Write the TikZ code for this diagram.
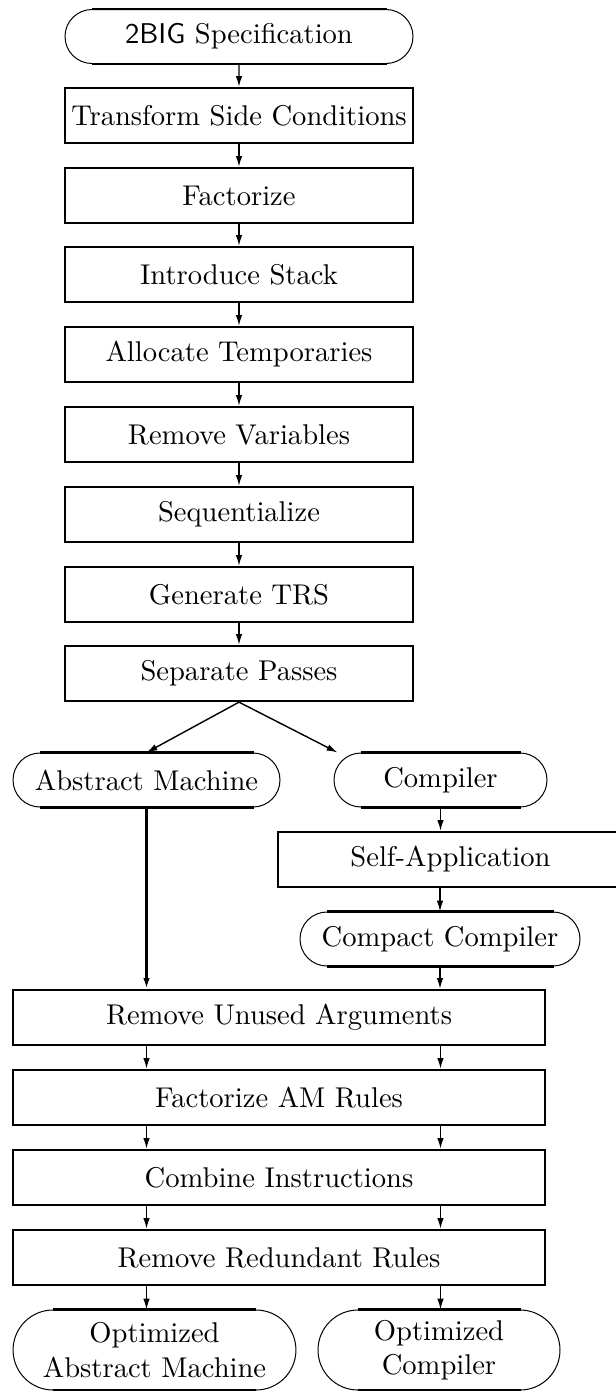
\documentclass[tikz,border=0pt]{standalone}
\usetikzlibrary{shapes.misc,arrows.meta}

\tikzset{
    procbox/.style={draw, line width=0.8pt, minimum height=19.25pt, inner sep=0pt},
    termbox/.style={draw, rounded rectangle, line width=0.35pt, minimum height=18.9pt, inner sep=0pt},
    narrowcol/.style={minimum width=121.8pt},
    widecol/.style={minimum width=186.2pt},
    flow/.style={-{Latex[length=3.8pt,width=2.3pt]}, line width=0.5pt},
}
% thick flat top and bottom of a terminal
\newcommand\termflat[2]{%
    \draw[line width=0.8pt] ([xshift=#2]#1.west |- #1.north) -- ([xshift=-#2]#1.east |- #1.north)
        ([xshift=#2]#1.west |- #1.south) -- ([xshift=-#2]#1.east |- #1.south);}

\begin{document}
\begin{tikzpicture}[x=0.35pt,y=-0.35pt]
\useasboundingbox (0,0) rectangle (615,1391);

% main column
\node[termbox, narrowcol] (spec) at (239,36.5) {\textsf{2BIG} Specification};
\node[procbox, narrowcol] (sidecond) at (239,115.5) {Transform Side Conditions};
\node[procbox, narrowcol] (factor) at (239,195.5) {Factorize};
\node[procbox, narrowcol] (stack) at (239,274.5) {Introduce Stack};
\node[procbox, narrowcol] (temps) at (239,354.5) {Allocate Temporaries};
\node[procbox, narrowcol] (remvars) at (239,434.5) {Remove Variables};
\node[procbox, narrowcol] (seq) at (239,514.5) {Sequentialize};
\node[procbox, narrowcol] (gentrs) at (239,594.5) {Generate TRS};
\node[procbox, narrowcol] (passes) at (239,673.5) {Separate Passes};

% the two branches
\node[termbox, minimum width=93.45pt] (am) at (146.5,780) {Abstract Machine};
\node[termbox, minimum width=74.55pt] (comp) at (440.5,780) {Compiler};
\node[procbox, minimum width=120.75pt] (selfapp) at (450.5,859.5) {Self-Application};
\node[termbox, minimum width=98pt] (compact) at (440,939) {Compact Compiler};

\node[procbox, widecol] (unused) at (279,1017.5) {Remove Unused Arguments};
\node[procbox, widecol] (factam) at (279,1097.5) {Factorize AM Rules};
\node[procbox, widecol] (combine) at (279,1177.5) {Combine Instructions};
\node[procbox, widecol] (redund) at (279,1257.5) {Remove Redundant Rules};

\node[termbox, minimum width=99pt, minimum height=28pt, align=center] (optam) at (154.5,1350) {Optimized\\Abstract Machine};
\node[termbox, minimum width=84.7pt, minimum height=28pt, align=center] (optcomp) at (439,1350) {Optimized\\Compiler};

\termflat{spec}{9.45pt}
\termflat{am}{9.45pt}
\termflat{comp}{9.45pt}
\termflat{compact}{9.45pt}
\termflat{optam}{14pt}
\termflat{optcomp}{14pt}

\coordinate (compin) at ([xshift=1.4pt]comp.west |- comp.north);

\foreach \a/\b in {spec/sidecond, sidecond/factor, factor/stack, stack/temps, temps/remvars, remvars/seq, seq/gentrs, gentrs/passes} {
    \draw[flow] (\a) -- (\b);
}

\draw[flow] (passes.south) -- (am.north);
\draw[flow] (passes.south) -- (compin);

\draw[flow, line width=0.8pt] (am.south) -- (am.south |- unused.north);
\draw[flow] (comp.south) -- (comp.south |- selfapp.north);
\draw[flow] (compact.north |- selfapp.south) -- (compact.north);
\draw[flow] (compact.south) -- (compact.south |- unused.north);

\foreach \a/\b in {unused/factam, factam/combine, combine/redund} {
    \draw[flow] (\a.south -| am.south) -- (\b.north -| am.south);
    \draw[flow] (\a.south -| comp.south) -- (\b.north -| comp.south);
}
\draw[flow] (redund.south -| am.south) -- (optam.north -| am.south);
\draw[flow] (redund.south -| comp.south) -- (optcomp.north -| comp.south);

\end{tikzpicture}
\end{document}
